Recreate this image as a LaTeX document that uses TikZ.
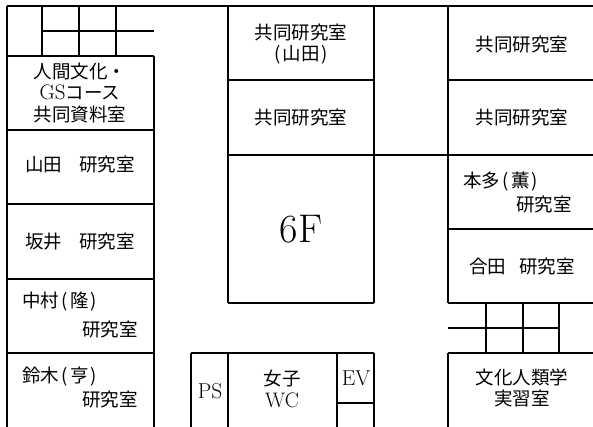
\documentclass[tikz,border=0pt]{standalone}
\usepackage{fontspec}
\newfontfamily\cjk{Noto Sans CJK JP}
\newcommand{\latbig}[1]{{\fontsize{21}{21}\selectfont\rmfamily #1}}
\newcommand{\pp}[1]{\hspace{0.15em}(\hspace{0.1em}#1\hspace{0.1em})}
\begin{document}
\begin{tikzpicture}[x=1pt,y=-1pt,
  wall/.style={line width=1.3pt,black},
  lbl/.style={inner sep=0pt,font=\fontsize{18.5}{21.5}\selectfont\cjk,align=center},
  lat/.style={inner sep=0pt,font=\fontsize{21.5}{22}\selectfont\rmfamily,align=center},
  big/.style={inner sep=0pt,font=\fontsize{40}{44}\selectfont\rmfamily}]
\useasboundingbox (0,0) rectangle (593,427);
% outer / left column
\draw[wall] (7,6) -- (593,6);
\draw[wall] (7,6) -- (7,427);
\draw[wall] (42,6) -- (42,56);
\draw[wall] (79,6) -- (79,56);
\draw[wall] (116,6) -- (116,56);
\draw[wall] (42,31) -- (154,31);
\draw[wall] (7,56) -- (154,56);
\draw[wall] (154,56) -- (154,427);
\draw[wall] (7,130) -- (154,130);
\draw[wall] (7,204) -- (154,204);
\draw[wall] (7,279) -- (154,279);
\draw[wall] (7,353) -- (154,353);
% middle
\draw[wall] (228,6) -- (228,303);
\draw[wall] (374,6) -- (374,303);
\draw[wall] (448,6) -- (448,303);
\draw[wall] (228,80) -- (374,80);
\draw[wall] (228,155) -- (593,155);
\draw[wall] (228,303) -- (374,303);
% right column
\draw[wall] (448,80) -- (593,80);
\draw[wall] (448,229) -- (593,229);
\draw[wall] (448,303) -- (593,303);
\draw[wall] (486,303) -- (486,353);
\draw[wall] (523,303) -- (523,353);
\draw[wall] (559,303) -- (559,353);
\draw[wall] (448,328) -- (559,328);
\draw[wall] (448,353) -- (593,353);
\draw[wall] (448,353) -- (448,427);
% bottom middle
\draw[wall] (191,353) -- (374,353);
\draw[wall] (191,353) -- (191,427);
\draw[wall] (228,353) -- (228,427);
\draw[wall] (337,353) -- (337,427);
\draw[wall] (374,353) -- (374,427);
\draw[wall] (337,403) -- (374,403);
% labels
\node[lbl] (ningen) at (80,93) {人間文化・\\\latbig{GS}コース\\共同資料室};
\node[lbl] (yamada) at (80,164) {山田\hspace{0.9em}研究室};
\node[lbl] (sakai) at (80,242) {坂井\hspace{0.9em}研究室};
\node[lbl,anchor=west] (naka1) at (22,302) {中村\pp{隆}};
\node[lbl,anchor=east] (naka2) at (138,329) {研究室};
\node[lbl,anchor=west] (suzu1) at (22,377) {鈴木\pp{亨}};
\node[lbl,anchor=east] (suzu2) at (138,399) {研究室};
\node[lbl] (kyo1) at (301,44) {共同研究室\\(\hspace{0.1em}山田\hspace{0.1em})};
\node[lbl] (kyo2) at (301,118) {共同研究室};
\node[lbl] (kyo3) at (522,45) {共同研究室};
\node[lbl] (kyo4) at (522,118) {共同研究室};
\node[lbl,anchor=west] (honda1) at (463,182) {本多\pp{薫}};
\node[lbl,anchor=east] (honda2) at (572,204) {研究室};
\node[lbl] (goda) at (522,266) {合田\hspace{0.7em}研究室};
\node[big] (sixf) at (301,229) {6F};
\node[lat] (ps) at (210,391) {PS};
\node[lbl] (wc) at (282,389) {女子\\\latbig{WC}};
\node[lat] (ev) at (356,378) {EV};
\node[lbl] (bunka) at (522,388) {文化人類学\\実習室};
\end{tikzpicture}
\end{document}
